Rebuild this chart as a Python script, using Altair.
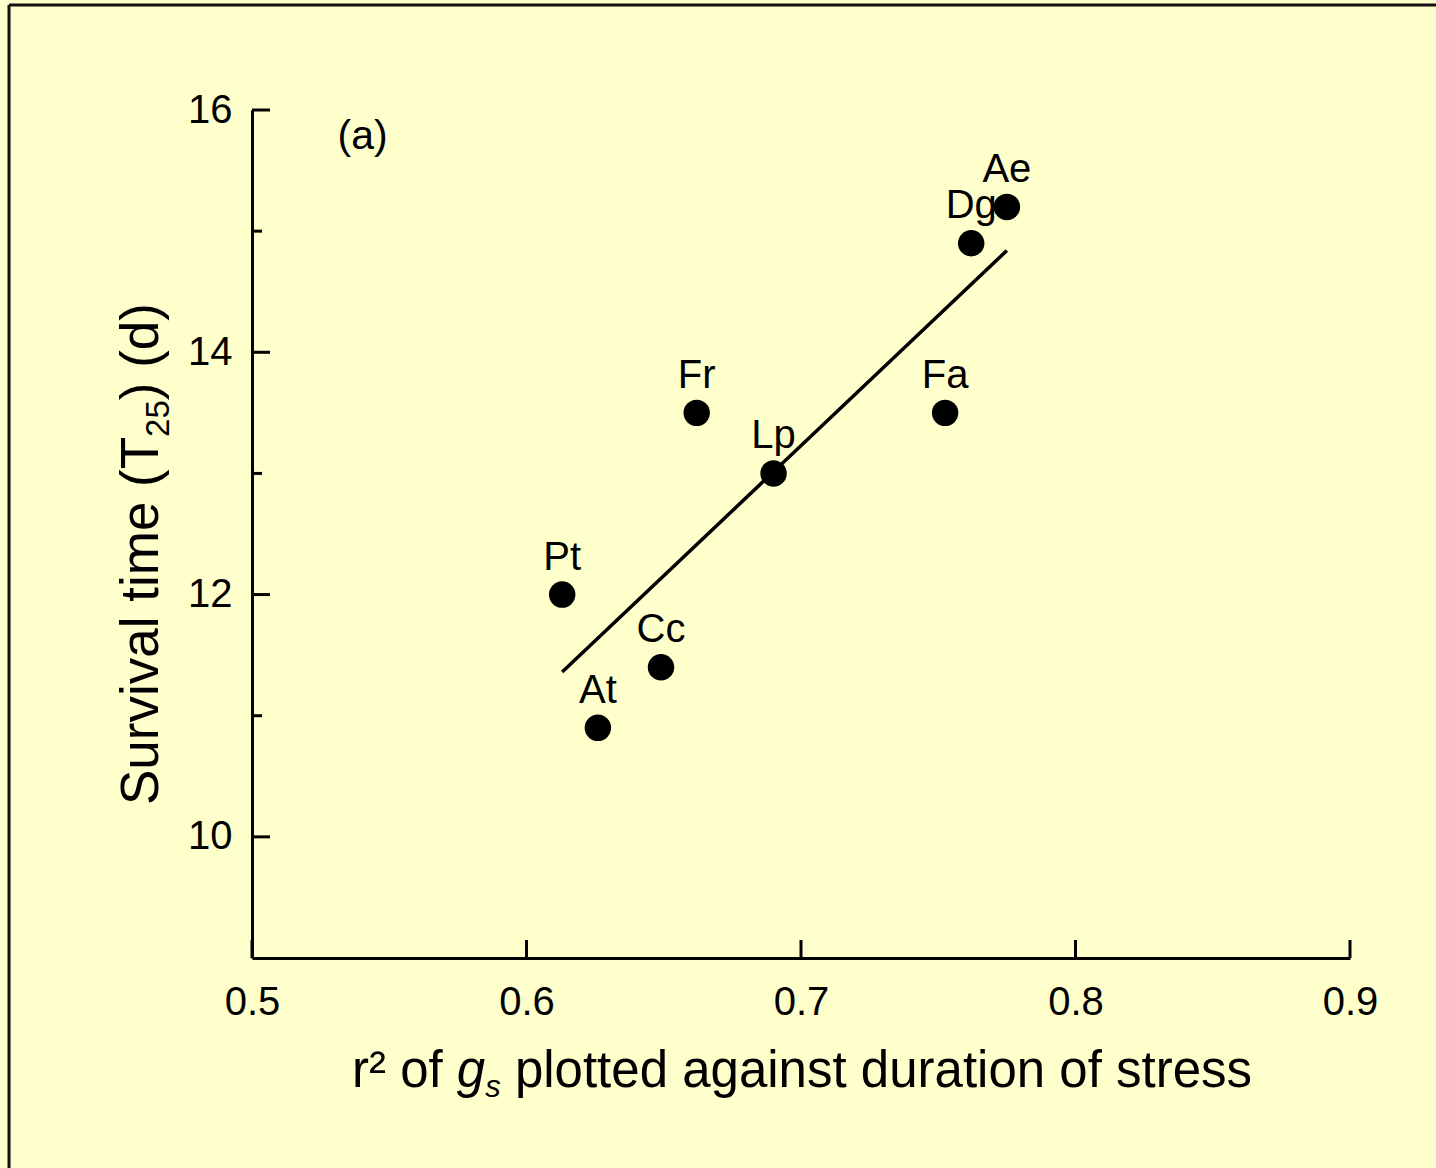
import altair as alt
import pandas as pd

# ---- data ----
species = ["Pt", "At", "Cc", "Fr", "Lp", "Fa", "Dg", "Ae"]
r2_gs = [0.613, 0.626, 0.649, 0.662, 0.690, 0.7525, 0.762, 0.775]
survival = [12.0, 10.9, 11.4, 13.5, 13.0, 13.5, 14.9, 15.2]
fit_x = [0.613, 0.775]
fit_y = [11.36, 14.84]
x_ticks = [0.5, 0.6, 0.7, 0.8, 0.9]
y_major = [10, 12, 14, 16]
y_minor = [11, 13, 15]
panel_label = ["(a)"]
panel_x = [0.5403]
panel_y = [15.68]

FONT = "Liberation Sans"
W, H = 1098, 848
BG = "#FFFFCC"

xs = alt.Scale(domain=[0.5, 0.9], nice=False, zero=False)
ys = alt.Scale(domain=[9, 16], nice=False, zero=False)

pts = pd.DataFrame({"sp": species, "x": r2_gs, "y": survival})
fit = pd.DataFrame({"x": fit_x, "y": fit_y})

base_axes = alt.Chart(pts).mark_point(opacity=0).encode(
    x=alt.X("x:Q", scale=xs,
            axis=alt.Axis(values=x_ticks, format=".1f", title=None, grid=False,
                          ticks=False, labelFontSize=40, labelFont=FONT,
                          labelColor="black", labelPadding=24, labelFlush=False,
                          domainColor="black", domainWidth=3)),
    y=alt.Y("y:Q", scale=ys,
            axis=alt.Axis(values=y_major, format="d", title=None, grid=False,
                          ticks=False, labelFontSize=40, labelFont=FONT,
                          labelColor="black", labelPadding=20, labelFlush=False,
                          domainColor="black", domainWidth=3)),
)

xt = alt.Chart(pd.DataFrame({"v": x_ticks})).mark_rule(color="black", strokeWidth=3).encode(
    x=alt.X("v:Q", scale=xs), y=alt.value(H), y2=alt.value(H - 18))
ytm = alt.Chart(pd.DataFrame({"v": y_major})).mark_rule(color="black", strokeWidth=3).encode(
    y=alt.Y("v:Q", scale=ys), x=alt.value(0), x2=alt.value(18))
ytn = alt.Chart(pd.DataFrame({"v": y_minor})).mark_rule(color="black", strokeWidth=3).encode(
    y=alt.Y("v:Q", scale=ys), x=alt.value(0), x2=alt.value(10))

line = alt.Chart(fit).mark_line(color="black", strokeWidth=3.5).encode(
    x=alt.X("x:Q", scale=xs), y=alt.Y("y:Q", scale=ys))

dots = alt.Chart(pts).mark_circle(color="black", opacity=1, size=700).encode(
    x=alt.X("x:Q", scale=xs), y=alt.Y("y:Q", scale=ys))

labels = alt.Chart(pts).mark_text(font=FONT, fontSize=40, color="black",
                                  align="center", baseline="alphabetic", dy=-25).encode(
    x=alt.X("x:Q", scale=xs), y=alt.Y("y:Q", scale=ys), text="sp:N")

panel = alt.Chart(pd.DataFrame({"t": panel_label, "x": panel_x, "y": panel_y})).mark_text(
    font=FONT, fontSize=41, color="black", align="center", baseline="alphabetic").encode(
    x=alt.X("x:Q", scale=xs), y=alt.Y("y:Q", scale=ys), text="t:N")

# ---- x axis title with italic g and subscript s ----
TS = 51
SUB = 31
xb = 1087 - 110
x0 = 100
w1 = (0.333 + 0.333 + 0.278 + 0.556 + 0.278 + 0.278) * TS
wg = 0.556 * TS
ws = 0.5 * SUB
wsp = 0.278 * TS


def txt(t, x, y, size=TS, style="normal", angle=0):
    return alt.Chart(pd.DataFrame({"t": [t]})).mark_text(
        font=FONT, fontSize=size, fontStyle=style, color="black", align="left",
        baseline="alphabetic", angle=angle).encode(
        x=alt.value(x), y=alt.value(y), text="t:N")


xt1 = txt("r\u00b2 of", x0, xb)
xt2 = txt("g", x0 + w1, xb, style="italic")
xt3 = txt("s", x0 + w1 + wg, xb + 10, size=SUB, style="italic")
xt4 = txt("plotted against duration of stress", x0 + w1 + wg + ws + wsp, xb)

# ---- y axis title with subscript 25 (rotated) ----
YS = 53
YSUB = 33
yb = 158 - 252
y0 = 805 - 110
wy1 = (0.667 + 0.556 + 0.333 + 0.5 + 0.222 + 0.5 + 0.556 + 0.222 + 0.278 +
       0.278 + 0.222 + 0.833 + 0.556 + 0.278 + 0.333 + 0.611) * YS
wy2 = 2 * 0.556 * YSUB
yt1 = txt("Survival time (T", yb, y0, size=YS, angle=270)
yt2 = txt("25", yb + 11, y0 - wy1, size=YSUB, angle=270)
yt3 = txt(") (d)", yb, y0 - wy1 - wy2, size=YS, angle=270)

# ---- outer frame (top and left edges visible) ----
frame_l = alt.Chart(pd.DataFrame({"a": [0]})).mark_rule(color="#111111", strokeWidth=3).encode(
    x=alt.value(-243), y=alt.value(-105), y2=alt.value(1100))
frame_t = alt.Chart(pd.DataFrame({"a": [0]})).mark_rule(color="#111111", strokeWidth=3).encode(
    x=alt.value(-243), x2=alt.value(1200), y=alt.value(-105))

chart = alt.layer(
    base_axes, xt, ytm, ytn, line, dots, labels, panel,
    xt1, xt2, xt3, xt4, yt1, yt2, yt3, frame_l, frame_t
).properties(
    width=W, height=H,
    autosize=alt.AutoSizeParams(type="none"),
    padding={"left": 252, "top": 110, "right": 86, "bottom": 210},
    background=BG,
).configure_view(stroke=None, fill=BG)

chart.save("out.html", embed_options={"renderer": "svg", "actions": False})
